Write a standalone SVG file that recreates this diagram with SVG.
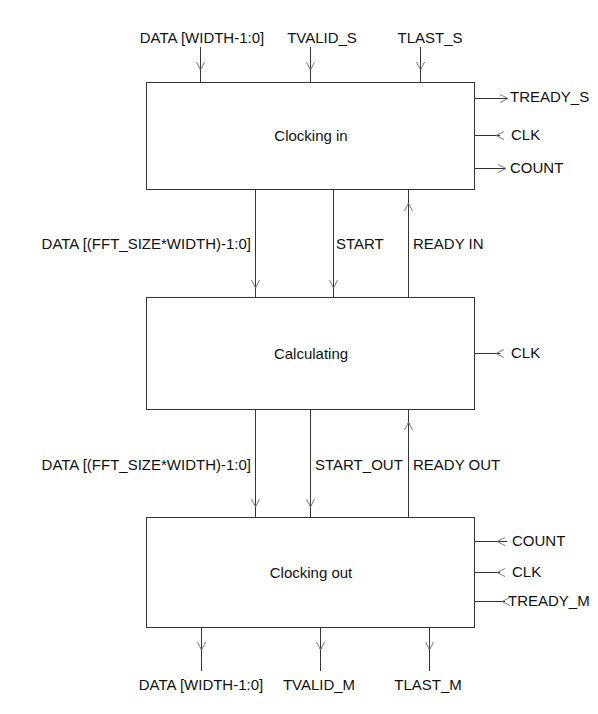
<svg xmlns="http://www.w3.org/2000/svg" xmlns:xlink="http://www.w3.org/1999/xlink" width="598" height="714" viewBox="0 0 598 714">
<style>
  text { font-family: "Liberation Sans", Arial, sans-serif; font-size: 15px; fill: #111; }
  .box { fill: #fff; stroke: #333; stroke-width: 1; }
  .ln { stroke: #333; stroke-width: 1; fill: none; }
  .ah { stroke: #777; stroke-width: 1; fill: none; }
  .c { text-anchor: middle; }
  .e { text-anchor: end; }
</style>
<defs>
  <path id="chev" class="ah" d="M-4,-8 L0,0 L4,-8"/>
</defs>
<rect width="598" height="714" fill="#fff"/>

<g id="connectors">
  <!-- top inputs -->
  <line class="ln" x1="200.5" y1="47" x2="200.5" y2="82.5"/>
  <use href="#chev" transform="translate(200.5,70)"/>
  <line class="ln" x1="310.5" y1="47" x2="310.5" y2="82.5"/>
  <use href="#chev" transform="translate(310.5,70)"/>
  <line class="ln" x1="420.5" y1="47" x2="420.5" y2="82.5"/>
  <use href="#chev" transform="translate(420.5,70)"/>

  <!-- box1 right side -->
  <line class="ln" x1="474.5" y1="98.5" x2="508" y2="98.5"/>
  <use href="#chev" transform="translate(508,98.5) rotate(-90)"/>
  <line class="ln" x1="474.5" y1="135.5" x2="500" y2="135.5"/>
  <use href="#chev" transform="translate(496,135.5) rotate(90)"/>
  <line class="ln" x1="474.5" y1="168.5" x2="506" y2="168.5"/>
  <use href="#chev" transform="translate(506,168.5) rotate(-90)"/>

  <!-- box1 to box2 -->
  <line class="ln" x1="255.5" y1="189.5" x2="255.5" y2="297.5"/>
  <use href="#chev" transform="translate(255.5,288)"/>
  <line class="ln" x1="333.5" y1="189.5" x2="333.5" y2="297.5"/>
  <use href="#chev" transform="translate(333.5,288)"/>
  <line class="ln" x1="408.5" y1="189.5" x2="408.5" y2="297.5"/>
  <use href="#chev" transform="translate(408.5,203) rotate(180)"/>

  <!-- box2 right side -->
  <line class="ln" x1="474.5" y1="353.5" x2="500" y2="353.5"/>
  <use href="#chev" transform="translate(496,353.5) rotate(90)"/>

  <!-- box2 to box3 -->
  <line class="ln" x1="255.5" y1="409.5" x2="255.5" y2="517.5"/>
  <use href="#chev" transform="translate(255.5,507)"/>
  <line class="ln" x1="310.5" y1="409.5" x2="310.5" y2="517.5"/>
  <use href="#chev" transform="translate(310.5,507)"/>
  <line class="ln" x1="408.5" y1="409.5" x2="408.5" y2="517.5"/>
  <use href="#chev" transform="translate(408.5,422) rotate(180)"/>

  <!-- box3 right side -->
  <line class="ln" x1="474.5" y1="541.5" x2="507" y2="541.5"/>
  <use href="#chev" transform="translate(497,541.5) rotate(90)"/>
  <line class="ln" x1="474.5" y1="572.5" x2="500" y2="572.5"/>
  <use href="#chev" transform="translate(497,572.5) rotate(90)"/>
  <line class="ln" x1="474.5" y1="601.5" x2="505" y2="601.5"/>
  <use href="#chev" transform="translate(502,601.5) rotate(90)"/>

  <!-- bottom outputs -->
  <line class="ln" x1="201.5" y1="627.5" x2="201.5" y2="671"/>
  <use href="#chev" transform="translate(201.5,650)"/>
  <line class="ln" x1="320.5" y1="627.5" x2="320.5" y2="671"/>
  <use href="#chev" transform="translate(320.5,650)"/>
  <line class="ln" x1="429.5" y1="627.5" x2="429.5" y2="671"/>
  <use href="#chev" transform="translate(429.5,650)"/>
</g>

<g id="clocking_in">
  <rect class="box" x="146.5" y="82.5" width="328" height="107"/>
  <text class="c" x="311" y="141">Clocking in</text>
</g>
<g id="calculating">
  <rect class="box" x="146.5" y="297.5" width="328" height="112"/>
  <text class="c" x="311" y="359">Calculating</text>
</g>
<g id="clocking_out">
  <rect class="box" x="146.5" y="517.5" width="328" height="110"/>
  <text class="c" x="311" y="578">Clocking out</text>
</g>

<g id="labels">
  <text class="c" x="202" y="43">DATA [WIDTH-1:0]</text>
  <text class="c" x="322" y="43">TVALID_S</text>
  <text class="c" x="430" y="43">TLAST_S</text>

  <text x="510" y="102">TREADY_S</text>
  <text x="511" y="140">CLK</text>
  <text x="510" y="173">COUNT</text>

  <text class="e" x="251" y="249">DATA [(FFT_SIZE*WIDTH)-1:0]</text>
  <text x="336" y="249">START</text>
  <text x="413" y="249">READY IN</text>

  <text x="511" y="358">CLK</text>

  <text class="e" x="251" y="470">DATA [(FFT_SIZE*WIDTH)-1:0]</text>
  <text x="315" y="470">START_OUT</text>
  <text x="413" y="470">READY OUT</text>

  <text x="512" y="546">COUNT</text>
  <text x="512" y="577">CLK</text>
  <text x="508" y="606">TREADY_M</text>

  <text class="c" x="201" y="690">DATA [WIDTH-1:0]</text>
  <text class="c" x="319" y="690">TVALID_M</text>
  <text class="c" x="428" y="690">TLAST_M</text>
</g>
</svg>
